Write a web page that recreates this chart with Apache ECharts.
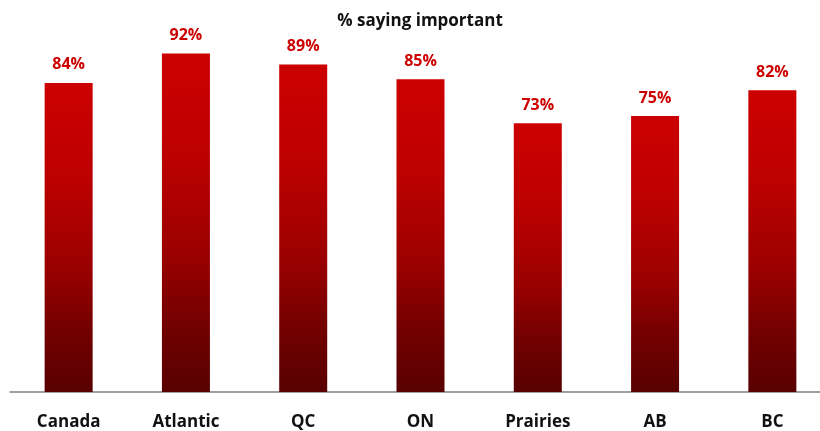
<!DOCTYPE html>
<html><head><meta charset="utf-8">
<script src="https://cdn.jsdelivr.net/npm/echarts@6/dist/echarts.min.js"></script>
<style>html,body{margin:0;padding:0;background:#fff;overflow:hidden;width:820px;height:431px}#c{width:832px;height:431px}</style>
</head><body><div id="c"></div>
<script>
const categories = ["Canada","Atlantic","QC","ON","Prairies","AB","BC"];
const values = [84,92,89,85,73,75,82];
const titleText = "% saying important";

const chart = echarts.init(document.getElementById('c'), null, {renderer:'canvas'});
chart.setOption({
  animation:false,
  title:{text:titleText,left:415,top:8,textAlign:'center',
    textStyle:{fontFamily:'Open Sans',fontWeight:'bold',fontSize:17,color:'#111111'}},
  grid:{left:10,right:1,top:24,bottom:39,containLabel:false},
  xAxis:{type:'category',data:categories,
    axisLine:{lineStyle:{color:'#7f7f7f',width:1.5}},axisTick:{show:false},
    axisLabel:{margin:22,fontFamily:'Open Sans',fontWeight:'bold',fontSize:17,color:'#111111'}},
  yAxis:{type:'value',min:0,max:100,show:false,splitLine:{show:false}},
  series:[{type:'bar',data:values,barWidth:48,
    itemStyle:{color:new echarts.graphic.LinearGradient(0,0,0,1,[
      {offset:0,color:'#cc0000'},{offset:0.3,color:'#bd0000'},{offset:0.6,color:'#9a0000'},
      {offset:0.8,color:'#730000'},{offset:1,color:'#580000'}])},
    label:{show:true,position:'top',distance:10,formatter:'{c}%',
      fontFamily:'Open Sans',fontWeight:'bold',fontSize:16,color:'#cc0000'}}]
});
</script></body></html>
